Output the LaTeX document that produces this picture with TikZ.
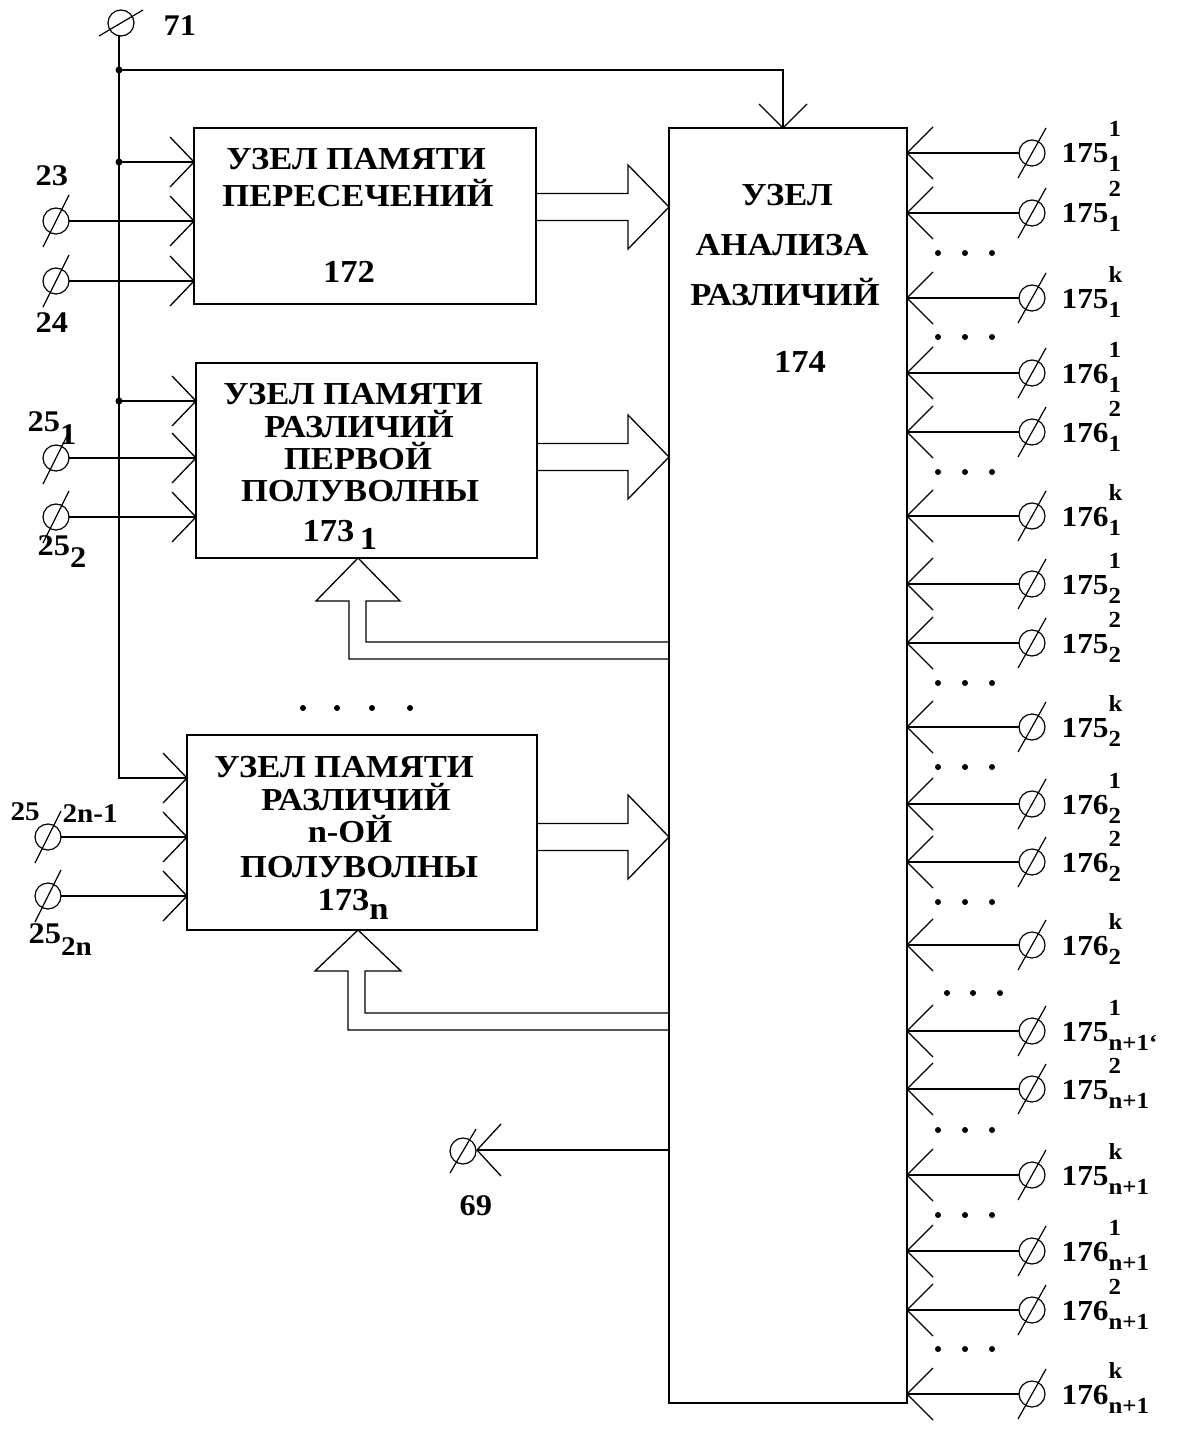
\documentclass[tikz,border=0pt]{standalone}
\usepackage{fontspec}
\setmainfont{Liberation Serif}[UprightFont={* Bold}, BoldFont={* Bold}, ItalicFont={* Bold}, BoldItalicFont={* Bold}, FakeStretch=1.08]
\usetikzlibrary{calc}
\newcommand\tslash[3]{\draw[line width=1.2pt] ($(#1.center)+(-#2,#3)$) -- ($(#1.center)+(#2,-#3)$);}
\newcommand\chevIn[3]{\draw[line width=1.3pt] ($(#1)+(#2,-#3)$) -- (#1) -- ($(#1)+(#2,#3)$);}
\newcommand\fatR[3]{\draw[line width=1.3pt] (#1,#3-13.5) -- (#2-41,#3-13.5) -- (#2-41,#3-42) -- (#2,#3) -- (#2-41,#3+42) -- (#2-41,#3+13.5) -- (#1,#3+13.5);}
\newcommand\ssz{\fontsize{23}{23}\selectfont}
\begin{document}
\begin{tikzpicture}[x=1pt,y=-1pt, line width=1.3pt,
  blk/.style={draw, line width=1.5pt, inner sep=0pt, outer sep=0pt},
  term/.style={circle, draw, line width=1.2pt, minimum size=26pt, inner sep=0pt, outer sep=0pt},
  txt/.style={font=\fontsize{32}{32}\selectfont, inner sep=0pt, anchor=base},
  lbl/.style={font=\fontsize{30}{30}\selectfont, inner sep=0pt, anchor=base west},
  rl/.style={font=\fontsize{29}{29}\selectfont, inner sep=0pt, anchor=base west},
  dot/.style={circle, fill, inner sep=0pt, minimum size=7pt}
]
\useasboundingbox (0,0) rectangle (1185,1431);

% blocks
\node[blk, minimum width=342pt, minimum height=176pt] (b172) at (365,216) {};
\node[blk, minimum width=341pt, minimum height=195pt] (b1731) at (366.5,460.5) {};
\node[blk, minimum width=350pt, minimum height=195pt] (b173n) at (362,832.5) {};
\node[blk, minimum width=238pt, minimum height=1275pt] (b174) at (788,765.5) {};

% block texts
\node[txt] (t172a) at (356,170) {УЗЕЛ ПАМЯТИ};
\node[txt] (t172b) at (358,207) {ПЕРЕСЕЧЕНИЙ};
\node[txt] (t172c) at (349,282) {172};

\node[txt] (t1a) at (353,404) {УЗЕЛ ПАМЯТИ};
\node[txt] (t1b) at (359,437) {РАЗЛИЧИЙ};
\node[txt] (t1c) at (358,469) {ПЕРВОЙ};
\node[txt] (t1d) at (360,501) {ПОЛУВОЛНЫ};
\node[txt, anchor=base west] (t1e) at (302,541) {173\raisebox{-8pt}{\,1}};

\node[txt] (tna) at (344,777) {УЗЕЛ ПАМЯТИ};
\node[txt] (tnb) at (356,810) {РАЗЛИЧИЙ};
\node[txt] (tnc) at (350,842) {n-ОЙ};
\node[txt] (tnd) at (359,877) {ПОЛУВОЛНЫ};
\node[txt, anchor=base west] (tne) at (317,910) {173\raisebox{-9pt}{n}};

\node[txt] (t174a) at (787,206) {УЗЕЛ};
\node[txt] (t174b) at (782,255) {АНАЛИЗА};
\node[txt] (t174c) at (785,305) {РАЗЛИЧИЙ};
\node[txt] (t174d) at (800,372) {174};

% bus from terminal 71
\node[term] (t71) at (121,23) {};
\draw[line width=1.2pt] ($(t71.center)+(-22,13)$) -- ($(t71.center)+(22,-13)$);
\node[lbl] (l71) at (163,36) {71};
\coordinate (j1) at (119,70);
\coordinate (j2) at (119,162);
\coordinate (j3) at (119,401);
\coordinate (jb) at (119,778);
\coordinate (k174) at (783,70);
\coordinate (in174) at (b174.north -| k174);
\draw (t71.south -| j1) -- (jb) -- (b173n.west |- jb);
\draw (j1) -- (k174) -- (in174);
\draw ($(in174)+(-24,-24)$) -- (in174) -- ($(in174)+(24,-24)$);
\draw (j2) -- (b172.west |- j2);
\draw (j3) -- (b1731.west |- j3);
\foreach \j in {j1,j2,j3} \node[dot] at (\j) {};

% inputs of 172
\node[term] (t23) at (56,221) {};
\node[term] (t24) at (56,281) {};
\tslash{t23}{13}{26}
\tslash{t24}{13}{26}
\node[lbl] (l23) at (35,186) {23};
\node[lbl] (l24) at (35,332) {24};
\draw (t23) -- (b172.west |- t23);
\draw (t24) -- (b172.west |- t24);
\coordinate (c172a) at (b172.west |- j2);
\coordinate (c172b) at (b172.west |- t23);
\coordinate (c172c) at (b172.west |- t24);
\foreach \c in {c172a,c172b,c172c} {\chevIn{\c}{-24}{25}}

% inputs of 173_1
\node[term] (t251) at (56,458) {};
\node[term] (t252) at (56,517) {};
\tslash{t251}{13}{26}
\tslash{t252}{13}{26}
\node[lbl] (l251) at (27,431) {25\raisebox{-13pt}{1}};
\node[lbl] (l252) at (37,555) {25\raisebox{-12pt}{2}};
\draw (t251) -- (b1731.west |- t251);
\draw (t252) -- (b1731.west |- t252);
\coordinate (c1a) at (b1731.west |- j3);
\coordinate (c1b) at (b1731.west |- t251);
\coordinate (c1c) at (b1731.west |- t252);
\foreach \c in {c1a,c1b,c1c} {\chevIn{\c}{-24}{25}}

% inputs of 173_n
\node[term] (t25a) at (48,837) {};
\node[term] (t25b) at (48,896) {};
\tslash{t25a}{13}{26}
\tslash{t25b}{13}{26}
\node[lbl, font=\fontsize{27}{27}\selectfont] (l25a) at (10,820) {25};
\node[lbl, font=\fontsize{27}{27}\selectfont] (l25b) at (62,822) {2n-1};
\node[lbl] (l25c) at (28,943) {25\raisebox{-12pt}{\fontsize{27}{27}\selectfont 2n}};
\draw (t25a) -- (b173n.west |- t25a);
\draw (t25b) -- (b173n.west |- t25b);
\coordinate (cna) at (b173n.west |- jb);
\coordinate (cnb) at (b173n.west |- t25a);
\coordinate (cnc) at (b173n.west |- t25b);
\foreach \c in {cna,cnb,cnc} {\chevIn{\c}{-24}{25}}

% wide arrows to 174
\fatR{536}{669}{207}
\fatR{537}{669}{457}
\fatR{537}{669}{837}

% feedback wide arrows from 174
\draw[line width=1.3pt] (669,659) -- (349,659) -- (349,601) -- (316,601) -- (358,558) -- (400,601) -- (366,601) -- (366,642) -- (669,642);
\draw[line width=1.3pt] (669,1030) -- (348,1030) -- (348,971) -- (315,971) -- (358,930) -- (401,971) -- (365,971) -- (365,1013) -- (669,1013);

% dots between 173 blocks
\foreach \x in {303,337,372,410} \node[dot, minimum size=6pt] at (\x,708) {};

% output 69
\node[term] (t69) at (463,1151) {};
\tslash{t69}{13}{22}
\coordinate (o69) at (477,1150);
\draw (b174.west |- o69) -- (o69);
\chevIn{o69}{24}{26}
\node[lbl] (l69) at (459,1215) {69};

% right-hand inputs of 174
\foreach \y/\num/\sup/\sub [count=\i] in {
  153/175/1/1, 213/175/2/1, 298/175/k/1,
  373/176/1/1, 432/176/2/1, 516/176/k/1,
  584/175/1/2, 643/175/2/2, 727/175/k/2,
  804/176/1/2, 862/176/2/2, 945/176/k/2,
  1031/175/1/n+1`, 1089/175/2/n+1, 1175/175/k/n+1,
  1251/176/1/n+1, 1310/176/2/n+1, 1394/176/k/n+1} {
  \node[term] (r\i) at (1032,\y) {};
  \tslash{r\i}{14}{25}
  \coordinate (rc\i) at (b174.east |- r\i);
  \draw (r\i) -- (rc\i);
  \chevIn{rc\i}{26}{26}
  \node[rl] (rl\i) at (1061,\y+10) {\num\rlap{\raisebox{26pt}{\ssz\sup}}\raisebox{-9pt}{\ssz\sub}};
}
\foreach \y in {253,337,472,683,767,902,1130,1215,1349}
  \foreach \x in {938,965,992} \node[dot, minimum size=6pt] at (\x,\y) {};
\foreach \x in {947,973,1000} \node[dot, minimum size=6pt] at (\x,993) {};
\end{tikzpicture}
\end{document}
